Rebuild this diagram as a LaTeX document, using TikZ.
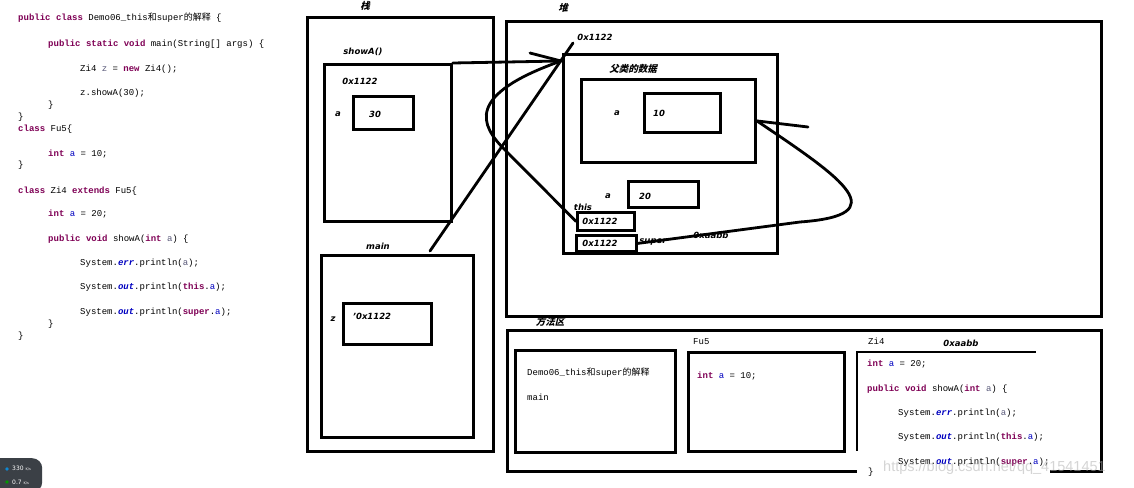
\documentclass[tikz,border=0pt]{standalone}
\usepackage{fontspec}
\setmainfont{DejaVu Sans}
\newfontfamily\codefont{Liberation Mono}
\newfontfamily\cjk{Noto Sans CJK SC}
\newfontfamily\cjktag[FakeSlant=0.25]{Noto Sans CJK SC}
\newfontfamily\markfont{Liberation Sans}
\usetikzlibrary{positioning}
\definecolor{jkey}{HTML}{7F0055}
\definecolor{jfield}{HTML}{0000C0}
\definecolor{jlocal}{HTML}{5A5A7A}
\definecolor{netbg}{HTML}{3B4046}
\newcommand\kw[1]{{\bfseries\color{jkey}#1}}
\newcommand\fld[1]{{\color{jfield}#1}}
\newcommand\sfld[1]{{\bfseries\itshape\color{jfield}#1}}
\newcommand\loc[1]{{\color{jlocal}#1}}
\newcommand\zh[1]{{\cjk #1}}

\begin{document}
\begin{tikzpicture}[x=1pt, y=-1pt,
    frame/.style={draw, line width=2.8pt, anchor=north west, inner sep=0pt},
    wire/.style={line width=2.8pt, line cap=round},
    tag/.style={font=\bfseries\itshape\fontsize{8.5}{10}\selectfont, inner sep=0pt},
    zhtag/.style={font=\cjktag\bfseries\fontsize{9.5}{11}\selectfont, inner sep=0pt},
    code/.style={font=\codefont\fontsize{9}{11}\selectfont, anchor=west, inner sep=0pt}]
  \path[fill=white, use as bounding box] (0,0) rectangle (1134,487);

  % source code on the left
  \node[code] (l1) at (18,18) {\kw{public} \kw{class} Demo06\_this\zh{和}super\zh{的解释} \{};
  \node[code] (l2) at (48,44) {\kw{public} \kw{static} \kw{void} main(String[] args) \{};
  \node[code] (l3) at (80,69) {Zi4 \loc{z} = \kw{new} Zi4();};
  \node[code] (l4) at (80,93) {z.showA(30);};
  \node[code] (l5) at (48,105) {\}};
  \node[code] (l6) at (18,117) {\}};
  \node[code] (l7) at (18,129) {\kw{class} Fu5\{};
  \node[code] (l8) at (48,154) {\kw{int} \fld{a} = 10;};
  \node[code] (l9) at (18,165) {\}};
  \node[code] (l10) at (18,191) {\kw{class} Zi4 \kw{extends} Fu5\{};
  \node[code] (l11) at (48,214) {\kw{int} \fld{a} = 20;};
  \node[code] (l12) at (48,239) {\kw{public} \kw{void} showA(\kw{int} \loc{a}) \{};
  \node[code] (l13) at (80,263) {System.\sfld{err}.println(\loc{a});};
  \node[code] (l14) at (80,287) {System.\sfld{out}.println(\kw{this}.\fld{a});};
  \node[code] (l15) at (80,312) {System.\sfld{out}.println(\kw{super}.\fld{a});};
  \node[code] (l16) at (48,324) {\}};
  \node[code] (l17) at (18,336) {\}};

  % stack
  \node[frame, minimum width=186pt, minimum height=434pt] (stack) at (306,16) {};
  \node[zhtag] at (365,6) {栈};
  \node[frame, minimum width=127pt, minimum height=157pt] (showA) at (323,63) {};
  \node[tag] at (363,52) {showA()};
  \node[tag] at (360,81) {0x1122};
  \node[frame, minimum width=60pt, minimum height=33pt] (cellA) at (352,95) {};
  \node[tag] at (338,114) {a};
  \node[tag] at (375,114) {30};
  \node[frame, minimum width=152pt, minimum height=182pt] (mainfr) at (320,254) {};
  \node[tag] at (378,246) {main};
  \node[frame, minimum width=88pt, minimum height=41pt] (cellZ) at (342,302) {};
  \node[tag] at (333,319) {z};
  \node[tag] at (372,316) {'0x1122};

  % heap
  \node[frame, minimum width=595pt, minimum height=295pt] (heap) at (505,20) {};
  \node[zhtag] at (563,8) {堆};
  \node[frame, minimum width=214pt, minimum height=199pt] (obj) at (562,53) {};
  \node[tag] at (595,37) {0x1122};
  \node[zhtag] at (633,69) {父类的数据};
  \node[frame, minimum width=174pt, minimum height=83pt] (parent) at (580,78) {};
  \node[tag] at (617,113) {a};
  \node[frame, minimum width=76pt, minimum height=39pt] (cellTen) at (643,92) {};
  \node[tag] at (659,113) {10};
  \node[tag] at (608,196) {a};
  \node[frame, minimum width=70pt, minimum height=26pt] (cellTwenty) at (627,180) {};
  \node[tag] at (645,196) {20};
  \node[tag] at (583,207) {this};
  \node[frame, minimum width=57pt, minimum height=18pt] (cellThis) at (576,211) {};
  \node[tag] at (600,221) {0x1122};
  \node[frame, minimum width=60pt, minimum height=16pt] (cellSuper) at (575,234) {};
  \node[tag] at (600,243) {0x1122};
  \node[tag] at (653,242) {super};
  \node[tag] at (711,235) {0xaabb};

  % method area
  \node[frame, minimum width=594pt, minimum height=141pt] (methods) at (506,329) {};
  \node[zhtag] at (550,322) {方法区};
  \node[frame, minimum width=160pt, minimum height=102pt] (clsDemo) at (514,349) {};
  \node[code] at (527,373) {Demo06\_this\zh{和}super\zh{的解释}};
  \node[code] at (527,397) {main};
  \node[frame, minimum width=156pt, minimum height=99pt] (clsFu) at (687,351) {};
  \node[code] at (693,342) {Fu5};
  \node[code] at (697,376) {\kw{int} \fld{a} = 10;};
  \node[fill=white, anchor=north west, inner sep=0pt, minimum width=193pt, minimum height=135pt] (clsZi) at (857,352) {};
  \draw[wire, line cap=rect] ([yshift=-98pt]clsZi.north west) -- (clsZi.north west) -- ([xshift=178pt]clsZi.north west);
  \node[code] at (868,341) {Zi4};
  \node[tag] at (961,343) {0xaabb};
  \node[code] at (867,364) {\kw{int} \fld{a} = 20;};
  \node[code] at (867,389) {\kw{public} \kw{void} showA(\kw{int} \loc{a}) \{};
  \node[code] at (898,413) {System.\sfld{err}.println(\loc{a});};
  \node[code] at (898,437) {System.\sfld{out}.println(\kw{this}.\fld{a});};
  \node[code] at (898,462) {System.\sfld{out}.println(\kw{super}.\fld{a});};
  \node[code] at (868,472) {\}};

  % references
  \coordinate (tip) at (561,61);
  \coordinate (barb) at (530,53);
  \coordinate (over) at (573,43);
  \coordinate (mainref) at (430,251);
  \coordinate (fuEnd) at (808,127);
  \draw[wire] (showA.north east) -- (tip);
  \draw[wire] (barb) -- (tip);
  \draw[wire] (mainref) -- (over);
  \draw[wire] (cellThis.west) -- (505,150) .. controls (480,125) and (465,95) .. (tip);
  \draw[wire] (parent.east) -- (fuEnd);
  \draw[wire] (parent.east) .. controls (845,180) and (895,215) .. (800,222) -- (cellSuper.east);

  % screen overlay
  \node[font=\markfont\fontsize{14.5}{16}\selectfont, text=gray!60, opacity=0.55, anchor=west, inner sep=0pt] (mark) at (883,468) {https://blog.csdn.net/qq\_41541451};
  \node[fill=netbg, rounded corners=10pt, anchor=north west, minimum width=52pt, minimum height=34pt] (net) at (-10,458) {};
  \fill[cyan!70!blue] (7,469) circle (1.8pt);
  \fill[green!60!black] (7,482) circle (1.8pt);
  \node[font=\fontsize{6}{7}\selectfont, text=white, anchor=west, inner sep=0pt] (up) at (12,468) {330 {\fontsize{3.5}{4}\selectfont K/s}};
  \node[font=\fontsize{6}{7}\selectfont, text=white, anchor=west, inner sep=0pt] (down) at (12,482) {0.7 {\fontsize{3.5}{4}\selectfont K/s}};
\end{tikzpicture}
\end{document}
